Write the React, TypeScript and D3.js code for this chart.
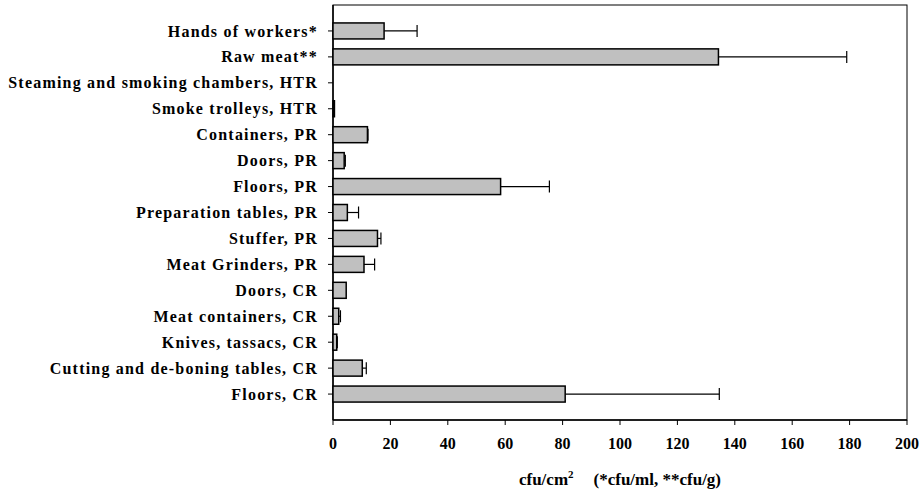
import * as d3 from "d3";

const CATEGORIES = [
  "Hands of workers*",
  "Raw meat**",
  "Steaming and smoking chambers, HTR",
  "Smoke trolleys, HTR",
  "Containers, PR",
  "Doors, PR",
  "Floors, PR",
  "Preparation tables, PR",
  "Stuffer, PR",
  "Meat Grinders, PR",
  "Doors, CR",
  "Meat containers, CR",
  "Knives, tassacs, CR",
  "Cutting and de-boning tables, CR",
  "Floors, CR",
];

const MEANS = [17.8, 134.3, 0, 0.5, 12.0, 3.9, 58.4, 5.0, 15.5, 10.8, 4.6, 2.0, 1.3, 10.2, 80.9];
const ERRORS = [11.5, 44.7, 0, 0, 0.2, 0.4, 17.0, 3.9, 1.2, 3.7, 0, 0.6, 0.2, 1.4, 53.7];

const X_TICKS = [0, 20, 40, 60, 80, 100, 120, 140, 160, 180, 200];

const W = 924;
const H = 493;
const PLOT = { left: 333, right: 907, top: 5, bottom: 420 };
const BAR_H = 16;
const FONT = "'Liberation Serif', 'Times New Roman', serif";

export default function App() {
  const x = d3.scaleLinear().domain([0, 200]).range([PLOT.left, PLOT.right]);
  const y = d3.scalePoint<string>().domain(CATEGORIES).range([PLOT.top, PLOT.bottom]).padding(1);

  return (
    <svg
      width={W}
      height={H}
      style={{ position: "absolute", left: 0, top: 0, background: "#fff", fontFamily: FONT, fontWeight: "bold" }}
    >
      {/* frame */}
      <rect
        x={PLOT.left}
        y={PLOT.top}
        width={PLOT.right - PLOT.left}
        height={PLOT.bottom - PLOT.top}
        fill="none"
        stroke="#000"
        strokeWidth={1}
      />
      <line x1={PLOT.left} x2={PLOT.left} y1={PLOT.top} y2={PLOT.bottom} stroke="#000" strokeWidth={1.5} />
      <line x1={PLOT.left} x2={PLOT.right} y1={PLOT.bottom} y2={PLOT.bottom} stroke="#000" strokeWidth={1.5} />

      {/* x ticks */}
      {X_TICKS.map((t) => (
        <g key={t}>
          <line x1={x(t)} x2={x(t)} y1={PLOT.bottom} y2={PLOT.bottom + 5} stroke="#000" strokeWidth={1} />
          <text x={x(t)} y={PLOT.bottom + 29} textAnchor="middle" fontSize={16}>
            {t}
          </text>
        </g>
      ))}

      {/* y ticks + labels */}
      {CATEGORIES.map((c) => (
        <g key={c}>
          <line x1={PLOT.left - 5} x2={PLOT.left} y1={y(c)!} y2={y(c)!} stroke="#000" strokeWidth={1} />
          <text
            x={PLOT.left - 15}
            y={y(c)!}
            dy="0.35em"
            textAnchor="end"
            fontSize={16}
            letterSpacing={1.2}
          >
            {c}
          </text>
        </g>
      ))}

      {/* bars */}
      {CATEGORIES.map((c, i) => {
        const cy = y(c)!;
        const v = MEANS[i];
        const e = ERRORS[i];
        return (
          <g key={`bar-${c}`}>
            {e > 0 && (
              <g stroke="#000" strokeWidth={1.2}>
                <line x1={x(v)} x2={x(v + e)} y1={cy} y2={cy} />
                <line x1={x(v + e)} x2={x(v + e)} y1={cy - 6} y2={cy + 6} />
              </g>
            )}
            {v > 0 && (
              <rect
                x={x(0)}
                y={cy - BAR_H / 2}
                width={x(v) - x(0)}
                height={BAR_H}
                fill="#c0c0c0"
                stroke="#000"
                strokeWidth={1.5}
              />
            )}
          </g>
        );
      })}

      {/* axis title */}
      <text x={(PLOT.left + PLOT.right) / 2} y={485} textAnchor="middle" fontSize={17}>
        <tspan>cfu/cm</tspan>
        <tspan fontSize={11} dy={-7}>2</tspan>
        <tspan dy={7} dx={20}>(*cfu/ml, **cfu/g)</tspan>
      </text>
    </svg>
  );
}
